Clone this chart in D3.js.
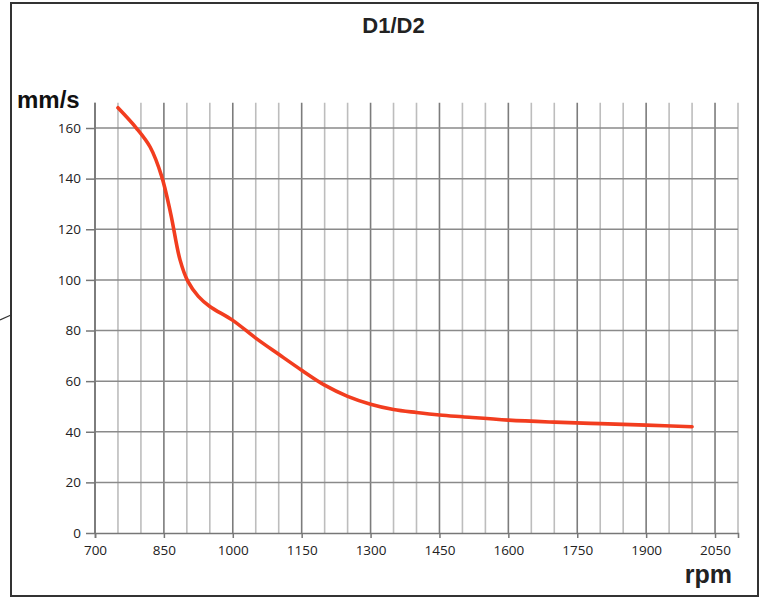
<!DOCTYPE html>
<html>
<head>
<meta charset="utf-8">
<script src="https://cdn.jsdelivr.net/npm/d3@7"></script>
<style>
  body { margin: 0; background: #fff; }
</style>
</head>
<body>
<div id="chart"></div>
<script>
var svgWidth = 760
var svgHeight = 599

// data
var rpm   = [750, 790, 820, 845, 865, 885, 902, 925, 950, 1000, 1050, 1100, 1150, 1200, 1250, 1300, 1350, 1400, 1450, 1500, 1600, 1700, 1800, 1900, 2000]
var speed = [168, 160, 152.5, 141, 126, 108, 99.5, 93.5, 89.5, 84, 77, 70.6, 64.3, 58.4, 54, 50.9, 48.8, 47.6, 46.6, 45.9, 44.6, 43.8, 43.2, 42.6, 42]
var xTicks = [700, 850, 1000, 1150, 1300, 1450, 1600, 1750, 1900, 2050]
var xMinor = d3.range(700, 2101, 50)
var yTicks = [0, 20, 40, 60, 80, 100, 120, 140, 160]

var margin = { top: 102.7, right: 22, bottom: 66, left: 95 }
var plotWidth = svgWidth - margin.left - margin.right
var plotHeight = svgHeight - margin.top - margin.bottom

var svg = d3.select("#chart")
    .append("svg")
    .attr("width", svgWidth)
    .attr("height", svgHeight)

// frame around the whole figure, plus the little leader line at the left
svg.append("rect")
    .attr("x", 11).attr("y", 3)
    .attr("width", 747).attr("height", 593)
    .attr("fill", "none")
    .attr("stroke", "#333")
    .attr("stroke-width", 2)
svg.append("line")
    .attr("x1", 0).attr("y1", 320)
    .attr("x2", 11).attr("y2", 315)
    .attr("stroke", "#333")
    .attr("stroke-width", 1.2)

var chartGroup = svg.append("g")
    .attr("transform", `translate(${margin.left}, ${margin.top})`)

var xScale = d3.scaleLinear().domain([700, 2100]).range([0, plotWidth])
var yScale = d3.scaleLinear().domain([0, 170]).range([plotHeight, 0])

// vertical grid, minor lines lighter
chartGroup.selectAll(".vgrid")
    .data(xMinor)
    .enter()
    .append("line")
    .attr("x1", d => xScale(d)).attr("x2", d => xScale(d))
    .attr("y1", 0).attr("y2", plotHeight)
    .attr("stroke", d => xTicks.includes(d) ? "#7c7c7c" : "#bdbdbd")
    .attr("stroke-width", 1.6)

// horizontal grid
chartGroup.selectAll(".hgrid")
    .data(yTicks.slice(1))
    .enter()
    .append("line")
    .attr("x1", 0).attr("x2", plotWidth)
    .attr("y1", d => yScale(d)).attr("y2", d => yScale(d))
    .attr("stroke", "#8a8a8a")
    .attr("stroke-width", 1.5)

// axes
var xAxis = chartGroup.append("g")
    .attr("transform", "translate(0," + plotHeight + ")")
    .call(d3.axisBottom(xScale).tickValues(xTicks).tickFormat(d3.format("d")).tickSize(5).tickPadding(7))
var yAxis = chartGroup.append("g")
    .call(d3.axisLeft(yScale).tickValues(yTicks).tickFormat(d3.format("d")).tickSize(9).tickPadding(5))
xAxis.select(".domain").attr("stroke", "#777").attr("stroke-width", 1.6)
yAxis.select(".domain").attr("stroke", "#777").attr("stroke-width", 1.6)
    .attr("d", `M0,0V${plotHeight}`)
chartGroup.selectAll(".tick line").attr("stroke", "#777").attr("stroke-width", 1.5)
chartGroup.selectAll(".tick text")
    .attr("fill", "#222")
    .attr("font-family", "Open Sans, sans-serif")
    .attr("font-size", 13.5)

// the curve
var line = d3.line()
    .x((d, i) => xScale(rpm[i]))
    .y(d => yScale(d))
    .curve(d3.curveCatmullRom.alpha(0.5))

chartGroup.append("path")
    .datum(speed)
    .attr("d", line)
    .attr("fill", "none")
    .attr("stroke", "#f23d1f")
    .attr("stroke-width", 3.6)
    .attr("stroke-linecap", "round")

// titles
svg.append("text")
    .attr("x", 393.5).attr("y", 33)
    .attr("text-anchor", "middle")
    .attr("font-family", "Liberation Sans, Arial, sans-serif")
    .attr("font-weight", "bold")
    .attr("font-size", 22)
    .attr("fill", "#222")
    .text("D1/D2")

svg.append("text")
    .attr("x", 17).attr("y", 108)
    .attr("font-family", "Liberation Sans, Arial, sans-serif")
    .attr("font-weight", "bold")
    .attr("font-size", 24)
    .attr("fill", "#111")
    .text("mm/s")

svg.append("text")
    .attr("x", 732).attr("y", 583)
    .attr("text-anchor", "end")
    .attr("font-family", "Liberation Sans, Arial, sans-serif")
    .attr("font-weight", "bold")
    .attr("font-size", 25)
    .attr("fill", "#222")
    .text("rpm")
</script>
</body>
</html>
